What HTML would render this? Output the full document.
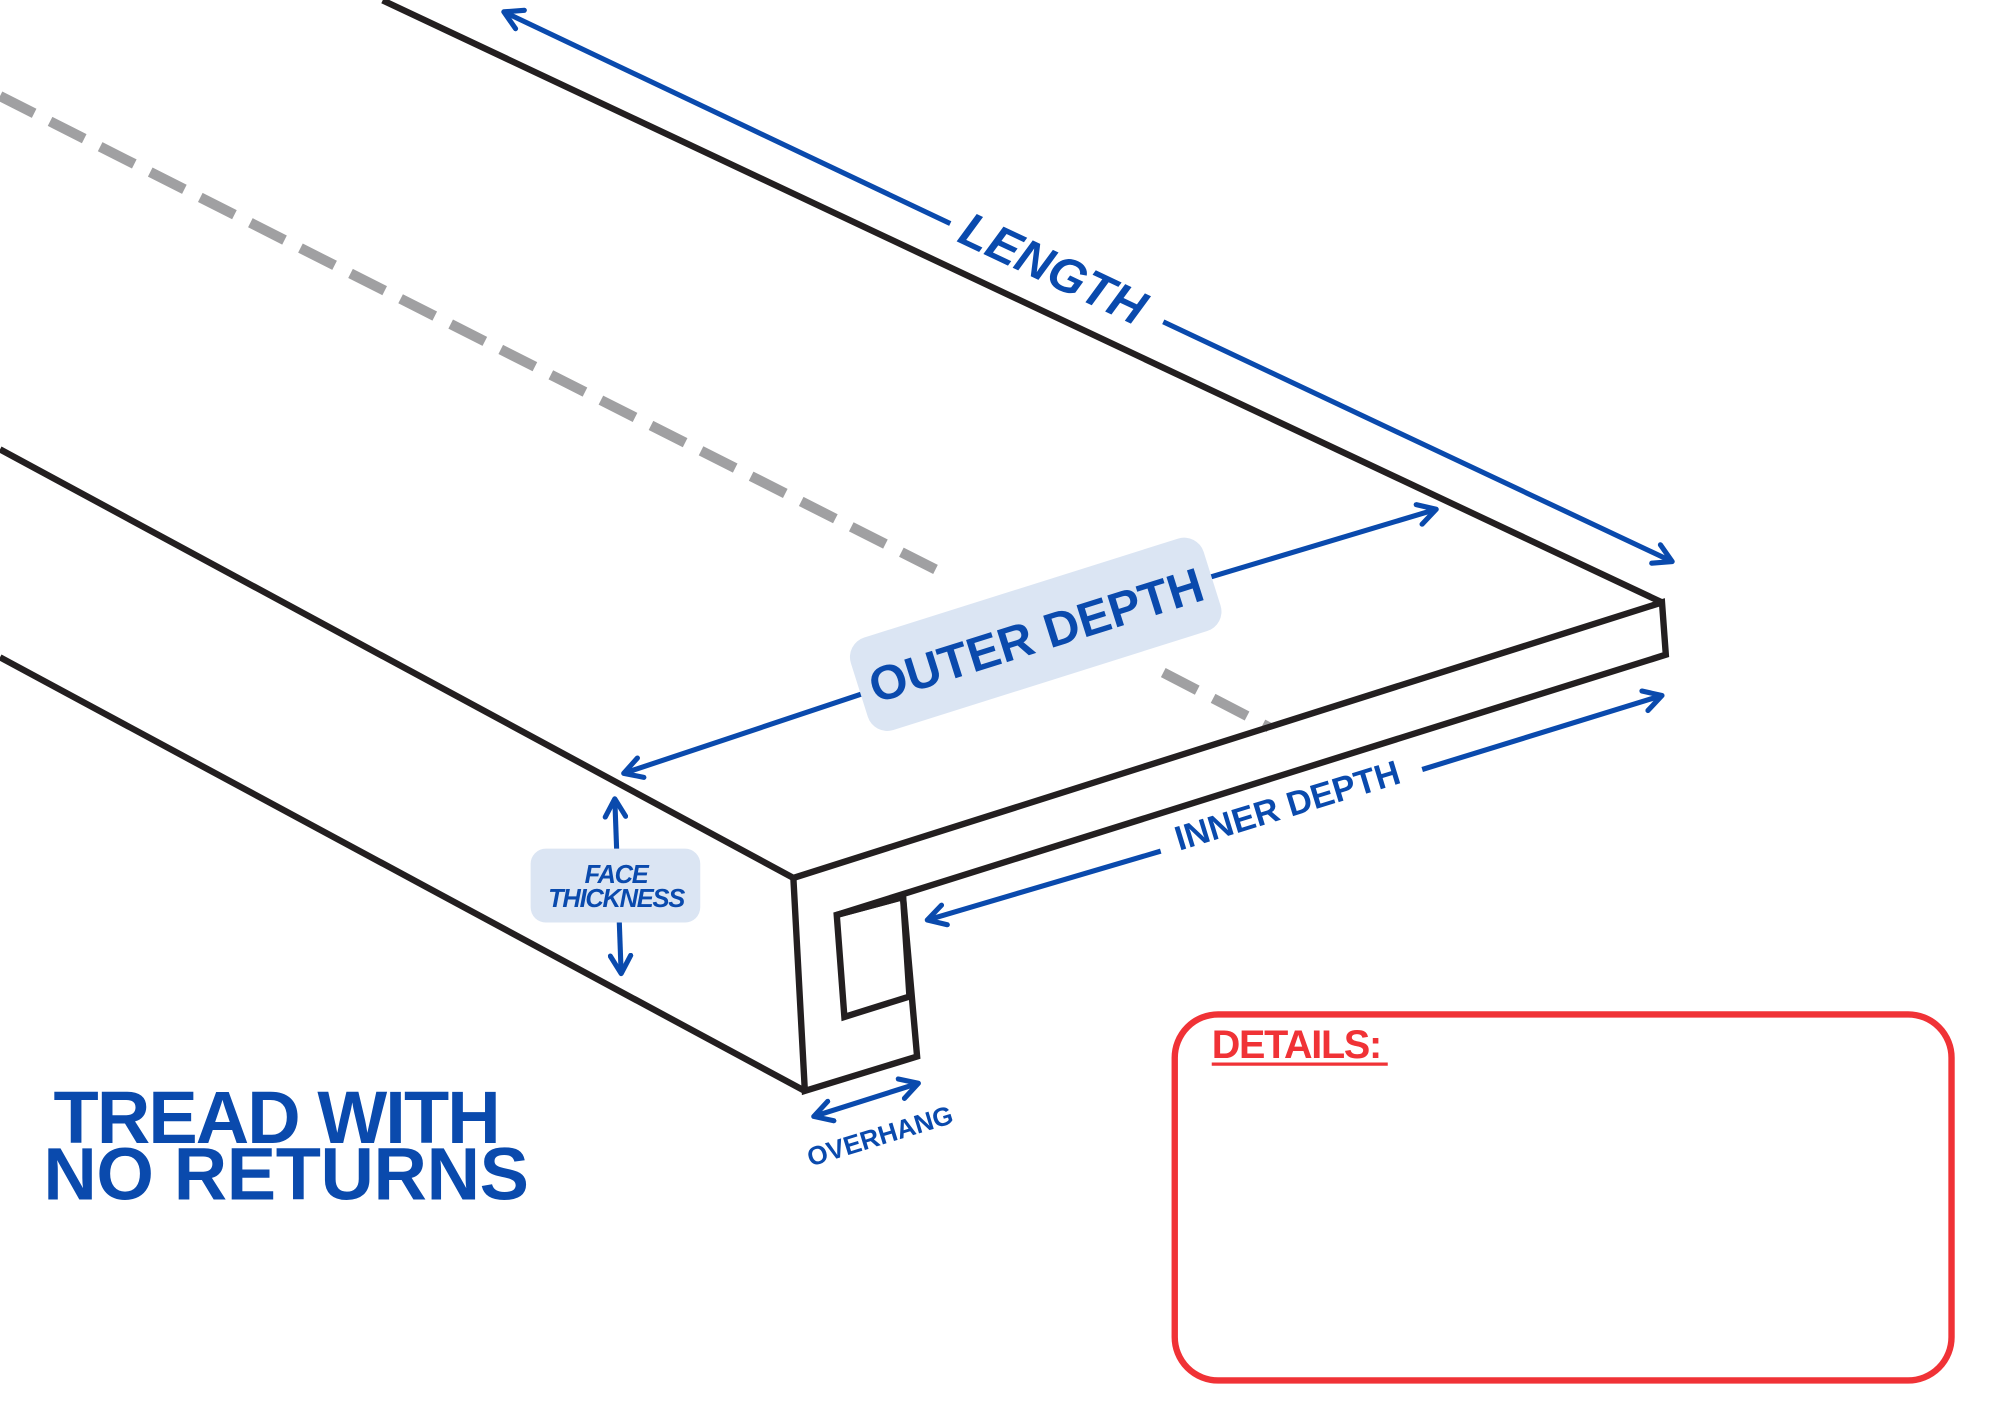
<!DOCTYPE html>
<html><head><meta charset="utf-8"><style>
html,body{margin:0;padding:0;background:#fff;}
svg{display:block;}
text{font-family:"Liberation Sans",sans-serif;}
</style></head><body>
<svg width="2000" height="1414" viewBox="0 0 1568 1108" xmlns="http://www.w3.org/2000/svg">
<defs>
<marker id="a" viewBox="0 0 10 10" refX="8" refY="5" markerWidth="5" markerHeight="5" orient="auto-start-reverse">
<path d="M1,1 L8,5 L1,9" fill="none" stroke="#0a4aad" stroke-width="2" stroke-linecap="round" stroke-linejoin="round"/>
</marker>
</defs>
<rect width="1568" height="1108" fill="#fff"/>
<g stroke="#a0a0a2" stroke-width="8" stroke-dasharray="30,14" fill="none">
<line x1="0" y1="75" x2="745" y2="452"/>
<line x1="912" y1="527" x2="995" y2="570"/>
</g>
<g stroke="#231f20" stroke-width="5" fill="none" stroke-linejoin="miter">
<line x1="300" y1="0" x2="1303" y2="472"/>
<polyline points="622,688 1303,472 1306,513 656,717 708,703"/>
<line x1="0" y1="352" x2="622" y2="688"/>
<line x1="0" y1="515" x2="631" y2="855"/>
<polygon points="656,717 662,797 713,781 708,703"/>
<polyline points="708,703 719,828 631,855 622,688"/>
</g>
<g stroke="#0a4aad" stroke-width="4" fill="none">
<line x1="745" y1="175" x2="395" y2="9" marker-end="url(#a)"/>
<line x1="912" y1="252" x2="1311" y2="440" marker-end="url(#a)"/>
<line x1="678" y1="543" x2="489" y2="606" marker-end="url(#a)"/>
<line x1="946" y1="453" x2="1126" y2="399" marker-end="url(#a)"/>
<line x1="1115" y1="603" x2="1303" y2="545" marker-end="url(#a)"/>
<line x1="910" y1="667" x2="727" y2="721" marker-end="url(#a)"/>
<line x1="482" y1="626" x2="487" y2="763" marker-start="url(#a)" marker-end="url(#a)"/>
<line x1="638" y1="875" x2="720" y2="849" marker-start="url(#a)" marker-end="url(#a)"/>
</g>
<text x="0" y="0" transform="translate(820,222) rotate(25.3)" text-anchor="middle" font-size="38" font-style="italic" font-weight="bold" fill="#0a4aad">LENGTH</text>
<g transform="translate(812,497) rotate(-17.5)">
<rect x="-145" y="-38" width="290" height="76" rx="16" fill="#dbe5f3"/>
<text x="0" y="14" text-anchor="middle" font-size="38" font-weight="bold" fill="#0a4aad">OUTER DEPTH</text>
</g>
<text transform="translate(1012,640) rotate(-17)" text-anchor="middle" font-size="27" font-weight="bold" fill="#0a4aad">INNER DEPTH</text>
<text transform="translate(692,897) rotate(-17)" text-anchor="middle" font-size="20.5" font-weight="bold" fill="#0a4aad">OVERHANG</text>
<rect x="416" y="665" width="133" height="58" rx="12" fill="#dbe5f3"/>
<text x="483" y="692" text-anchor="middle" font-size="20" font-style="italic" font-weight="bold" fill="#0a4aad" letter-spacing="-1">FACE</text>
<text x="483" y="711" text-anchor="middle" font-size="20" font-style="italic" font-weight="bold" fill="#0a4aad" letter-spacing="-1">THICKNESS</text>
<text x="42" y="896" font-size="58" font-weight="bold" fill="#0a4aad" letter-spacing="-1.5">TREAD WITH</text>
<text x="34" y="940" font-size="58" font-weight="bold" fill="#0a4aad" letter-spacing="-0.3">NO  RETURNS</text>
<rect x="921" y="795" width="609" height="287" rx="34" fill="none" stroke="#f03236" stroke-width="5"/>
<text x="950" y="829" font-size="31" font-weight="bold" fill="#f03236" letter-spacing="-1">DETAILS:</text>
<line x1="950" y1="834" x2="1088" y2="834" stroke="#f03236" stroke-width="2.5"/>
</svg>
</body></html>
